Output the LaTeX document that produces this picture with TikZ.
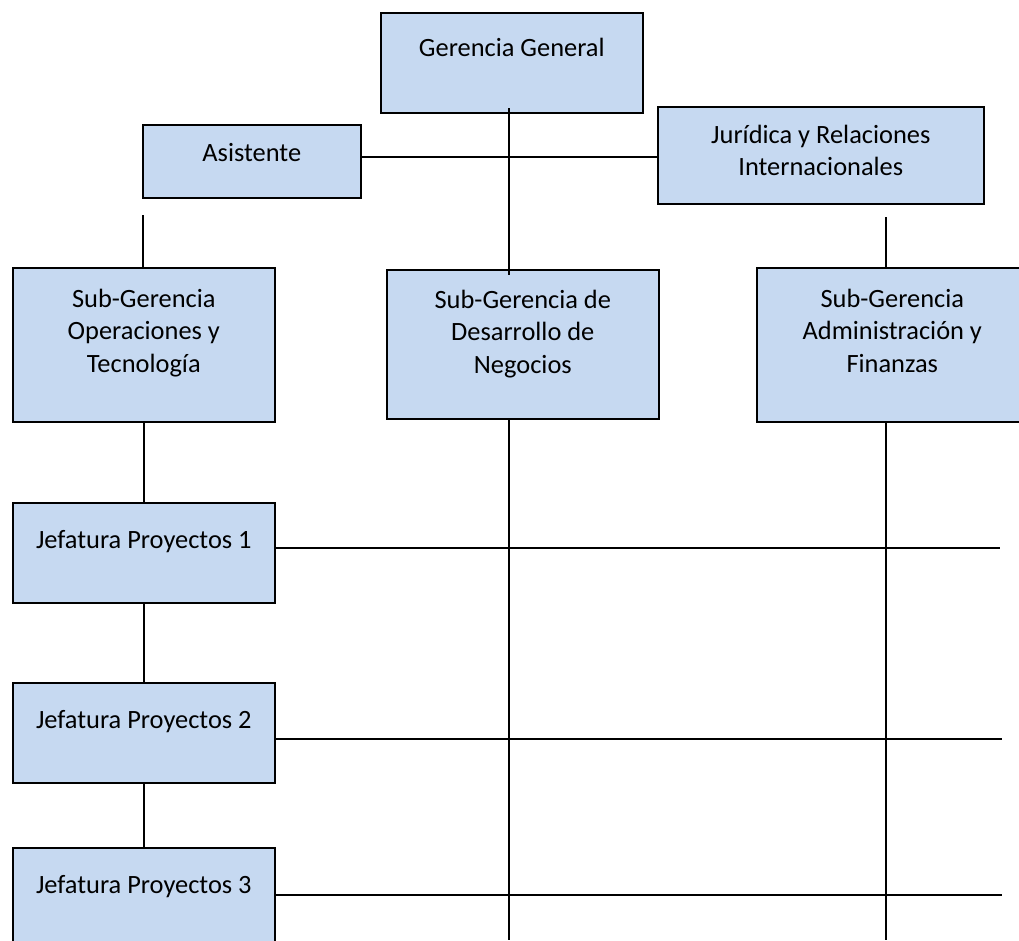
\documentclass[tikz,border=0pt]{standalone}
\usepackage{fontspec}
\setmainfont{Carlito}
\definecolor{boxfill}{HTML}{C6D9F1}
\begin{document}
\begin{tikzpicture}[x=1pt,y=-1pt,
  orgbox/.style={draw=black,fill=boxfill,line width=1.6pt,inner sep=0pt,anchor=north west},
  lbl/.style={inner sep=0pt,anchor=base,align=center,font=\fontsize{26.4}{32.5}\selectfont},
  link/.style={line width=1.6pt}]
  % canvas
  \fill[white] (0,0) rectangle (1019,940);
  \clip (0,0) rectangle (1019,940);

  % boxes
  \node[orgbox,minimum width=262pt,minimum height=100pt] (gg)   at (380,12)  {};
  \node[orgbox,minimum width=218pt,minimum height=73pt]  (asis) at (142,124) {};
  \node[orgbox,minimum width=326pt,minimum height=97pt]  (jur)  at (657,106) {};
  \node[orgbox,minimum width=262pt,minimum height=154pt] (sgo)  at (12,267)  {};
  \node[orgbox,minimum width=272pt,minimum height=149pt] (sgd)  at (386,269) {};
  \node[orgbox,minimum width=271pt,minimum height=154pt] (sga)  at (756,267) {};
  \node[orgbox,minimum width=262pt,minimum height=100pt] (j1)   at (12,502)  {};
  \node[orgbox,minimum width=262pt,minimum height=100pt] (j2)   at (12,682)  {};
  \node[orgbox,minimum width=262pt,minimum height=100pt] (j3)   at (12,847)  {};

  % box texts (base anchor = baseline of the last line)
  \node[lbl] (gg-t)   at ([yshift=-44pt]gg.north)    {Gerencia General};
  \node[lbl] (asis-t) at ([yshift=-37pt]asis.north)  {Asistente};
  \node[lbl] (jur-t)  at ([yshift=-69.5pt]jur.north) {Jurídica y Relaciones\\Internacionales};
  \node[lbl] (sgo-t)  at ([yshift=-105pt]sgo.north)  {Sub-Gerencia\\Operaciones y\\Tecnología};
  \node[lbl] (sgd-t)  at ([yshift=-104pt]sgd.north)  {Sub-Gerencia de\\Desarrollo de\\Negocios};
  \node[lbl] (sga-t)  at ([yshift=-105pt]sga.north)  {Sub-Gerencia\\Administración y\\Finanzas};
  \node[lbl] (j1-t)   at ([yshift=-46pt]j1.north)    {Jefatura Proyectos 1};
  \node[lbl] (j2-t)   at ([yshift=-46pt]j2.north)    {Jefatura Proyectos 2};
  \node[lbl] (j3-t)   at ([yshift=-46pt]j3.north)    {Jefatura Proyectos 3};

  % free ends of connectors
  \coordinate (trunk-top) at (509,108);
  \coordinate (trunk-bot) at (509,275);
  \coordinate (side-y)    at (0,157);
  \coordinate (asis-stub) at (143,215);
  \coordinate (jur-stub)  at (886,217);
  \coordinate (sgd-end)   at (509,940);
  \coordinate (sga-end)   at (886,940);
  \coordinate (r1)        at (1000,548);
  \coordinate (r2)        at (1002,739);
  \coordinate (r3)        at (1002,895);

  % connectors
  \draw[link] (trunk-top) -- (trunk-bot);
  \draw[link] (asis.east |- side-y) -- (jur.west |- side-y);
  \draw[link] (asis-stub) -- (asis-stub |- sgo.north);
  \draw[link] (jur-stub) -- (jur-stub |- sga.north);
  \draw[link] (sgo.south) -- (j1.north);
  \draw[link] (j1.south) -- (j2.north);
  \draw[link] (j2.south) -- (j3.north);
  \draw[link] (sgd-end |- sgd.south) -- (sgd-end);
  \draw[link] (sga-end |- sga.south) -- (sga-end);
  \draw[link] (j1.east |- r1) -- (r1);
  \draw[link] (j2.east |- r2) -- (r2);
  \draw[link] (j3.east |- r3) -- (r3);
\end{tikzpicture}
\end{document}
